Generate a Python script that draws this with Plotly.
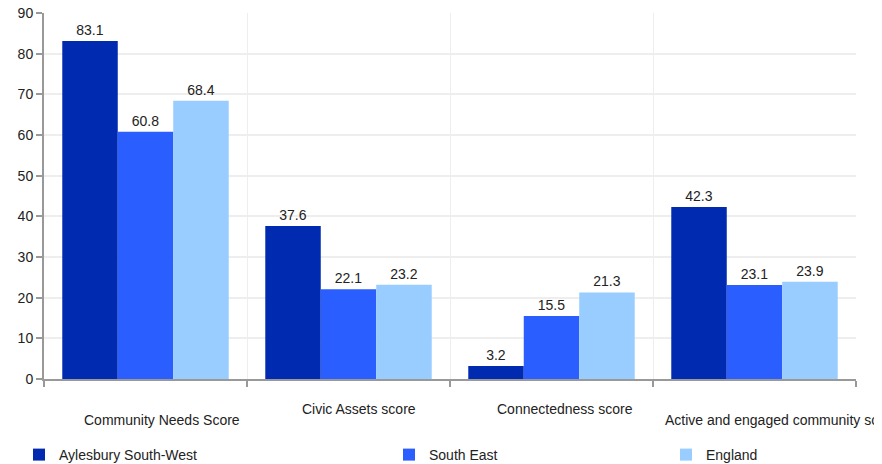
import plotly.graph_objects as go

# chart data
categories = ["Community Needs Score", "Civic Assets score", "Connectedness score",
              "Active and engaged community score"]
aylesbury_sw = [83.1, 37.6, 3.2, 42.3]
south_east = [60.8, 22.1, 15.5, 23.1]
england = [68.4, 23.2, 21.3, 23.9]
series_names = ["Aylesbury South-West", "South East", "England"]
colors = ["#002BB0", "#2B5EFF", "#99CCFF"]

FONT = "Liberation Sans, Arial, sans-serif"

# the html page puts the figure 8px in from the top-left corner
OFF = 8
W, H = 882 - OFF, 464 - OFF
L, R, T, B = 44 - OFF, 26, 13 - OFF, 85
plot_w = W - L - R
plot_h = H - T - B


def px_x(px):
    # screen pixel -> paper x
    return (px - OFF - L) / plot_w


def px_y(py):
    # screen pixel -> paper y
    return (H - B - (py - OFF)) / plot_h


fig = go.Figure()

legends = ["legend", "legend2", "legend3"]
for name, vals, col, lg in zip(series_names, [aylesbury_sw, south_east, england], colors, legends):
    fig.add_trace(go.Bar(
        x=categories, y=vals, name=name, marker=dict(color=col, line=dict(width=0)),
        text=[f"{v:.1f}" for v in vals], textposition="outside",
        textfont=dict(size=14, color="#222222", family=FONT),
        cliponaxis=False, legend=lg, showlegend=True,
    ))

# category labels (placed like the original, staggered)
label_pos = [(162, 420, "center"), (359, 409, "center"), (565, 409, "center"), (663, 420, "left")]
for cat, (lx, ly, anc) in zip(categories, label_pos):
    fig.add_annotation(text=cat, xref="paper", yref="paper", x=px_x(lx), y=px_y(ly),
                       xanchor=anc, yanchor="middle", showarrow=False,
                       font=dict(size=14, color="#222222", family=FONT))

leg_common = dict(orientation="h", xref="container", yref="container",
                  xanchor="left", yanchor="middle", visible=True,
                  font=dict(size=14, color="#222222", family=FONT), bgcolor="rgba(0,0,0,0)",
                  itemwidth=30)
leg_y = (H - (455 - OFF)) / H

fig.update_layout(
    width=W, height=H,
    margin=dict(l=L, r=R, t=T, b=B, autoexpand=False),
    plot_bgcolor="white", paper_bgcolor="white",
    barmode="group", bargap=0.18, bargroupgap=0,
    showlegend=True,
    font=dict(family=FONT, size=14, color="#222222"),
    legend=dict(x=(19 - OFF) / W, y=leg_y, **leg_common),
    legend2=dict(x=(389 - OFF) / W, y=leg_y, **leg_common),
    legend3=dict(x=(666 - OFF) / W, y=leg_y, **leg_common),
    xaxis=dict(type="category", tickson="boundaries", showticklabels=False,
               ticks="outside", ticklen=6, tickcolor="#999999", tickwidth=2,
               showgrid=True, gridcolor="#eeeeee", gridwidth=1,
               showline=True, linecolor="#999999", linewidth=2),
    yaxis=dict(range=[0, 90], dtick=10, ticks="outside", ticklen=6, tickcolor="#999999",
               tickwidth=2, showgrid=True, gridcolor="#eeeeee", gridwidth=2,
               showline=True, linecolor="#999999", linewidth=2, zeroline=False,
               ticklabeloverflow="allow",
               tickfont=dict(size=14, color="#222222")),
)

fig.write_html("out.html")
